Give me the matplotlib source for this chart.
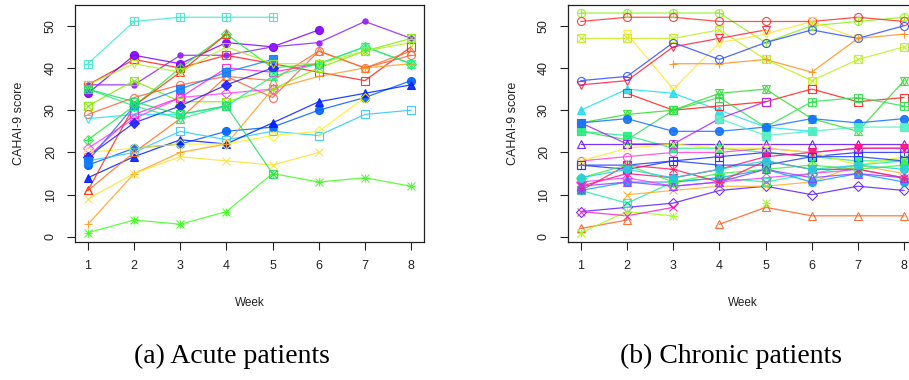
import numpy as np
import matplotlib
matplotlib.use("Agg")
import matplotlib.pyplot as plt

nan = np.nan
weeks = [1, 2, 3, 4, 5, 6, 7, 8]
yticks = [0, 10, 20, 30, 40, 50]

# ---------------- Acute patients ----------------
acute_values = [
    [41, 51, 52, 52, 52, nan, nan, nan],
    [36, 42, 40, 43, 41, 39, 37, 45],
    [34, 43, 41, 46, 45, 49, nan, nan],
    [36, 36, 43, 43, 45, 46, 51, 47],
    [31, 37, 32, 32, 35, 40, 44, 47],
    [29, 33, 36, 38, 33, 44, 40, 43],
    [28, 29, 29, 31, nan, nan, nan, nan],
    [23, 31, 40, 48, 40, 41, 45, 41],
    [21, 28, 33, 34, 35, nan, nan, nan],
    [19, 29, 33, 40, 39, 41, nan, nan],
    [17, 21, 22, 25, 26, 30, 33, 37],
    [18, 20, 25, 23, 25, 24, 29, 30],
    [14, 19, 23, 22, 27, 32, 34, 36],
    [20, 21, 22, 22, 24, 25, 33, nan],
    [11, 20, 28, 38, 37, 44, 40, 44],
    [11, 31, 39, 48, nan, nan, nan, nan],
    [3, 15, 20, 22, 35, 38, 40, 41],
    [9, 15, 19, 18, 17, 20, nan, nan],
    [1, 4, 3, 6, 15, 13, 14, 12],
    [19, 27, 31, 36, 40, nan, nan, nan],
    [18, 31, 35, 39, 42, nan, nan, nan],
    [35, 31, 28, 31, 38, 41, 45, 41],
    [36, 41, 39, 45, 41, 41, 44, 46],
    [35, 32, 29, 31, 15, nan, nan, nan],
]
acute_colors = [
    "#40E8D0", "#FF2020", "#8000FF", "#9020FF", "#80EE00", "#FF6040",
    "#20E0FF", "#20EE40", "#FF40FF", "#FF20E0", "#0060FF", "#30C8FF",
    "#0020FF", "#FFF020", "#FF7020", "#FF3010", "#FFA020", "#FFE030",
    "#40FF20", "#2020FF", "#1080FF", "#20F080", "#B0F020", "#20E060",
]
acute_markers = [
    "sqp", "sq", "fci", "dot", "sqx", "ci", "td", "dip", "di", "sq",
    "fci", "sq", "ftu", "di", "tu", "tu", "pl", "x", "ast", "fdi",
    "fsq", "star", "td", "sqx",
]

# ---------------- Chronic patients ----------------
chronic_values = [
    [53, 53, 53, 53, 46, 50, 51, 52],
    [51, 52, 52, 51, 51, 51, 52, 51],
    [47, 47, 47, 49, 42, 37, 42, 45],
    [nan, 48, 35, 46, 48, 51, 47, nan],
    [37, 38, 46, 42, 46, 49, 47, 50],
    [36, 37, 45, 47, 49, nan, nan, nan],
    [nan, nan, 41, 41, 42, 39, 47, 48],
    [30, 35, 34, 30, 26, 25, nan, nan],
    [nan, 34, 30, 31, 32, 35, 32, 33],
    [27, 29, 30, 34, 35, 28, 25, 37],
    [25, 23, 30, 33, 26, 32, 33, 31],
    [25, 24, 21, 21, 20, 19, 18, 18],
    [27, 28, 25, 25, 26, 28, 27, 28],
    [27, 22, 22, 28, 32, nan, nan, nan],
    [nan, nan, nan, 28, 24, 25, 26, 26],
    [22, 22, 22, 22, 22, 22, 22, 22],
    [17, 16, 18, 19, 20, 19, 20, 20],
    [18, 19, 20, 20, 21, 20, 21, 21],
    [18, 21, 22, 21, 21, 20, 17, 19],
    [6, 7, 8, 11, 12, 10, 12, 11],
    [2, 4, nan, 3, 7, 5, 5, 5],
    [1, 6, 5, nan, 8, nan, nan, nan],
    [6, 5, 7, nan, nan, nan, nan, nan],
    [11, 8, 13, 14, 13, 15, 17, 18],
    [nan, 10, 11, 12, 12, 13, 17, 15],
    [11, 13, 13, 14, 16, 13, 15, 13],
    [12, 15, 14, 16, 19, 20, 21, 21],
    [13, 14, 12, 13, 14, 15, 16, 14],
    [17, 17, 18, 17, 17, 19, 19, 18],
    [14, 17, 13, 15, 16, 17, 16, 17],
    [11, 17, 16, 13, 18, 16, 16, 14],
    [12, 13, 12, 13, 16, 14, 15, 14],
    [14, 16, 14, 16, 18, 16, 17, 16],
]
chronic_colors = [
    "#90F020", "#FF3030", "#C0F020", "#FFE830", "#3050FF", "#FF2040",
    "#FF9020", "#20E0F0", "#FF2020", "#30E030", "#30E050", "#20F080",
    "#1070FF", "#B020FF", "#50F0C0", "#6010FF", "#2030FF", "#FF40E0",
    "#F0F020", "#6020FF", "#FF6020", "#A0FF20", "#FF20C0", "#20F0A0",
    "#FFB020", "#10A0FF", "#FF1080", "#F040FF", "#2040F0", "#40F040",
    "#FF2060", "#9040FF", "#20D0E0",
]
chronic_markers = [
    "cip", "ci", "sqx", "td", "ci", "td", "pl", "ftu", "sq", "star",
    "sqp", "fsq", "fci", "sq", "fsq", "tu", "sqp", "ci", "x", "di",
    "tu", "ast", "x", "sqx", "x", "fci", "ftd", "di", "sq", "dip",
    "ast", "tu", "fci",
]

MARKERS = {
    "sq": [("s", False)], "ci": [("o", False)], "tu": [("^", False)],
    "td": [("v", False)], "pl": [("+", None)], "x": [("x", None)],
    "di": [("D", False)], "sqx": [("s", False), ("x", None)],
    "sqp": [("s", False), ("+", None)], "ast": [("+", None), ("x", None)],
    "dip": [("D", False), ("+", None)], "cip": [("o", False), ("+", None)],
    "star": [("^", False), ("v", False)], "fsq": [("s", True)],
    "fci": [("o", True)], "ftu": [("^", True)], "ftd": [("v", True)],
    "fdi": [("D", True)], "dot": [("o", True)],
}

plt.rcParams["font.family"] = ["Liberation Sans", "DejaVu Sans"]

fig = plt.figure(figsize=(9.09, 3.80), dpi=100)
W, H = 909.0, 380.0


def panel(rect, values, colors, markers):
    ax = fig.add_axes(rect)
    for vals, c, mk in zip(values, colors, markers):
        v = np.array(vals, dtype=float)
        ax.plot(weeks, v, color=c, lw=0.9, alpha=0.85, zorder=2)
        for m, filled in MARKERS[mk]:
            ms = 5.8
            if m == "D":
                ms = 4.8
            if mk == "dot":
                ms = 3.8
            if m in ("+", "x"):
                ms = 6.2
            ax.plot(weeks, v, ls="none", marker=m, ms=ms, mew=0.8,
                    mec=c, mfc=(c if filled else "none"), alpha=0.9, zorder=3)
    ax.set_xlim(0.72, 8.28)
    ax.set_ylim(-1.2, 54.9)
    ax.set_xticks(weeks)
    ax.set_yticks(yticks)
    ax.tick_params(direction="out", length=6, width=0.8, labelsize=9,
                   colors="#222222", pad=7)
    for lab in ax.get_yticklabels():
        lab.set_rotation(90)
        lab.set_va("center")
    for s in ax.spines.values():
        s.set_linewidth(0.9)
        s.set_color("#222222")
    ax.set_xlabel("Week", fontsize=8.5, labelpad=18, color="#222222")
    ax.set_ylabel("CAHAI-9 score", fontsize=9, labelpad=14, color="#222222")
    return ax


ax1 = panel([75 / W, 1 - 242 / H, 349 / W, 237 / H],
            acute_values, acute_colors, acute_markers)
ax2 = panel([568 / W, 1 - 242 / H, 349 / W, 237 / H],
            chronic_values, chronic_colors, chronic_markers)

fig.text(232 / W, 1 - 356 / H, "(a) Acute patients", ha="center", va="center",
         fontsize=20, family=["Liberation Serif", "DejaVu Serif"])
fig.text(731 / W, 1 - 356 / H, "(b) Chronic patients", ha="center", va="center",
         fontsize=20, family=["Liberation Serif", "DejaVu Serif"])

fig.savefig("out.png", dpi=100)
